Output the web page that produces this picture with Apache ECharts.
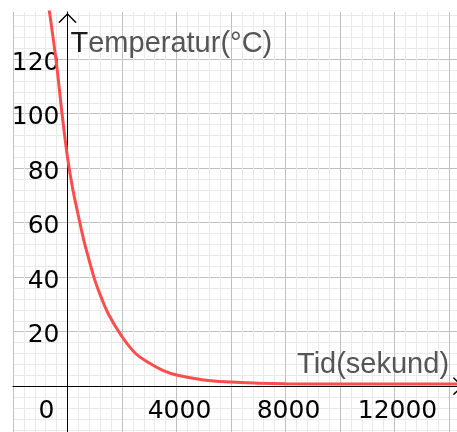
<!DOCTYPE html>
<html>
<head>
<meta charset="utf-8">
<script src="https://cdn.jsdelivr.net/npm/echarts@6/dist/echarts.min.js"></script>
<style>
  html, body { margin: 0; padding: 0; background: #fff; }
  #chart { width: 457px; height: 432px; }
</style>
</head>
<body>
<div id="chart"></div>
<script>
// Cooling curve: temperature (°C) against time (seconds)
const timeSec = [-700, -600, -400, -200, 0, 200, 400, 600, 800, 1000, 1200, 1500, 2000, 2500, 3000, 3500, 4000, 5000, 6000, 7000, 8000, 10000, 12000, 14400];
const tempC   = [140, 133, 118, 100, 84, 72, 62.5, 53.5, 46, 39, 33.5, 26.5, 18.2, 12, 8.5, 5.8, 4.1, 2.3, 1.5, 1.1, 0.9, 0.8, 0.8, 0.8];

// Labelled ticks on each axis
const xTickLabels = [4000, 8000, 12000];
const yTickLabels = [20, 40, 60, 80, 100, 120];
const originLabel = '0';

const xTitle = 'Tid(sekund)';
const yTitle = 'Temperatur(°C)';

const points = timeSec.map((t, i) => [t, tempC[i]]);

// Visible window of the coordinate system
const W = 457, H = 432;
const grid = { left: 13, top: 12, right: 0, bottom: -8.7 };
const xMin = -2000, xMax = 14294, yMin = -20, yMax = 137.3;

// Axes cross at the origin: shift each axis (line and labels) from the grid edge to zero
const plotW = W - grid.left - grid.right;
const plotH = H - grid.top - grid.bottom;
const xAxisShift = -plotH * (0 - yMin) / (yMax - yMin);
const yAxisShift = -plotW * (0 - xMin) / (xMax - xMin);

// Open chevron used as the arrow head at the end of both axes
const chevron = 'path://M0,10L10,0L20,10L18.6,10.9L10,2.2L1.4,10.9Z';

const chart = echarts.init(document.getElementById('chart'), null, { renderer: 'canvas' });

chart.setOption({
  animation: false,
  backgroundColor: '#ffffff',
  grid: Object.assign({ containLabel: false, outerBoundsMode: 'none' }, grid),
  xAxis: {
    type: 'value',
    min: xMin,
    max: xMax,
    interval: 2000,
    position: 'bottom',
    offset: xAxisShift,
    axisLine: {
      onZero: false,
      lineStyle: { color: '#000', width: 1 },
      symbol: ['none', chevron],
      symbolSize: [21, 10],
      symbolOffset: [0, 1]
    },
    axisTick: { show: false },
    splitLine: { show: true, showMaxLine: false, lineStyle: { color: '#c0c0c0', width: 1 } },
    minorTick: { show: false, splitNumber: 5 },
    minorSplitLine: { show: true, lineStyle: { color: '#e9e9e9', width: 1 } },
    axisLabel: {
      margin: 13,
      fontFamily: 'DejaVu Sans',
      fontSize: 25,
      color: '#000',
      showMinLabel: true,
      showMaxLabel: false,
      hideOverlap: false,
      formatter: function (v) {
        if (v === 0) return '{o|' + originLabel + '}';
        if (xTickLabels.indexOf(v) >= 0) return '{n|' + v + '}';
        return '';
      },
      rich: {
        n: { fontFamily: 'DejaVu Sans', fontSize: 25, color: '#000', padding: [0, 0, 0, 6] },
        o: { fontFamily: 'DejaVu Sans', fontSize: 25, color: '#000', padding: [0, 42, 0, 0] }
      }
    },
    name: xTitle,
    nameLocation: 'end',
    nameGap: -160,
    nameMoveOverlap: false,
    nameTextStyle: {
      fontFamily: 'Liberation Sans',
      fontSize: 29,
      color: '#555',
      align: 'left',
      verticalAlign: 'bottom',
      padding: [0, 0, 7, 0]
    }
  },
  yAxis: {
    type: 'value',
    min: yMin,
    max: yMax,
    interval: 20,
    position: 'left',
    offset: yAxisShift,
    axisLine: {
      onZero: false,
      lineStyle: { color: '#000', width: 1 },
      symbol: ['none', chevron],
      symbolSize: [21, 10],
      symbolOffset: [0, -6]
    },
    axisTick: { show: false },
    splitLine: { show: true, showMaxLine: false, lineStyle: { color: '#c0c0c0', width: 1 } },
    minorTick: { show: false, splitNumber: 5 },
    minorSplitLine: { show: true, lineStyle: { color: '#e9e9e9', width: 1 } },
    axisLabel: {
      margin: 8,
      fontFamily: 'DejaVu Sans',
      fontSize: 25,
      color: '#000',
      // labels sit a little below their grid line
      verticalAlign: 'top',
      lineHeight: 8,
      showMaxLabel: false,
      hideOverlap: false,
      formatter: function (v) {
        return yTickLabels.indexOf(v) >= 0 ? String(v) : '';
      }
    },
    name: '{t|T}' + yTitle.slice(1),
    nameLocation: 'end',
    nameGap: -32,
    nameMoveOverlap: false,
    nameTextStyle: {
      fontFamily: 'Liberation Sans',
      fontSize: 29,
      color: '#555',
      align: 'left',
      verticalAlign: 'middle',
      padding: [0, 0, 0, 3],
      rich: {
        t: { fontFamily: 'Liberation Sans', fontSize: 29, color: '#1a1a1a' }
      }
    }
  },
  series: [{
    type: 'line',
    data: points,
    showSymbol: false,
    smooth: 0.4,
    clip: true,
    lineStyle: { color: '#ff4d4d', width: 3 },
    z: 5
  }]
});
</script>
</body>
</html>
